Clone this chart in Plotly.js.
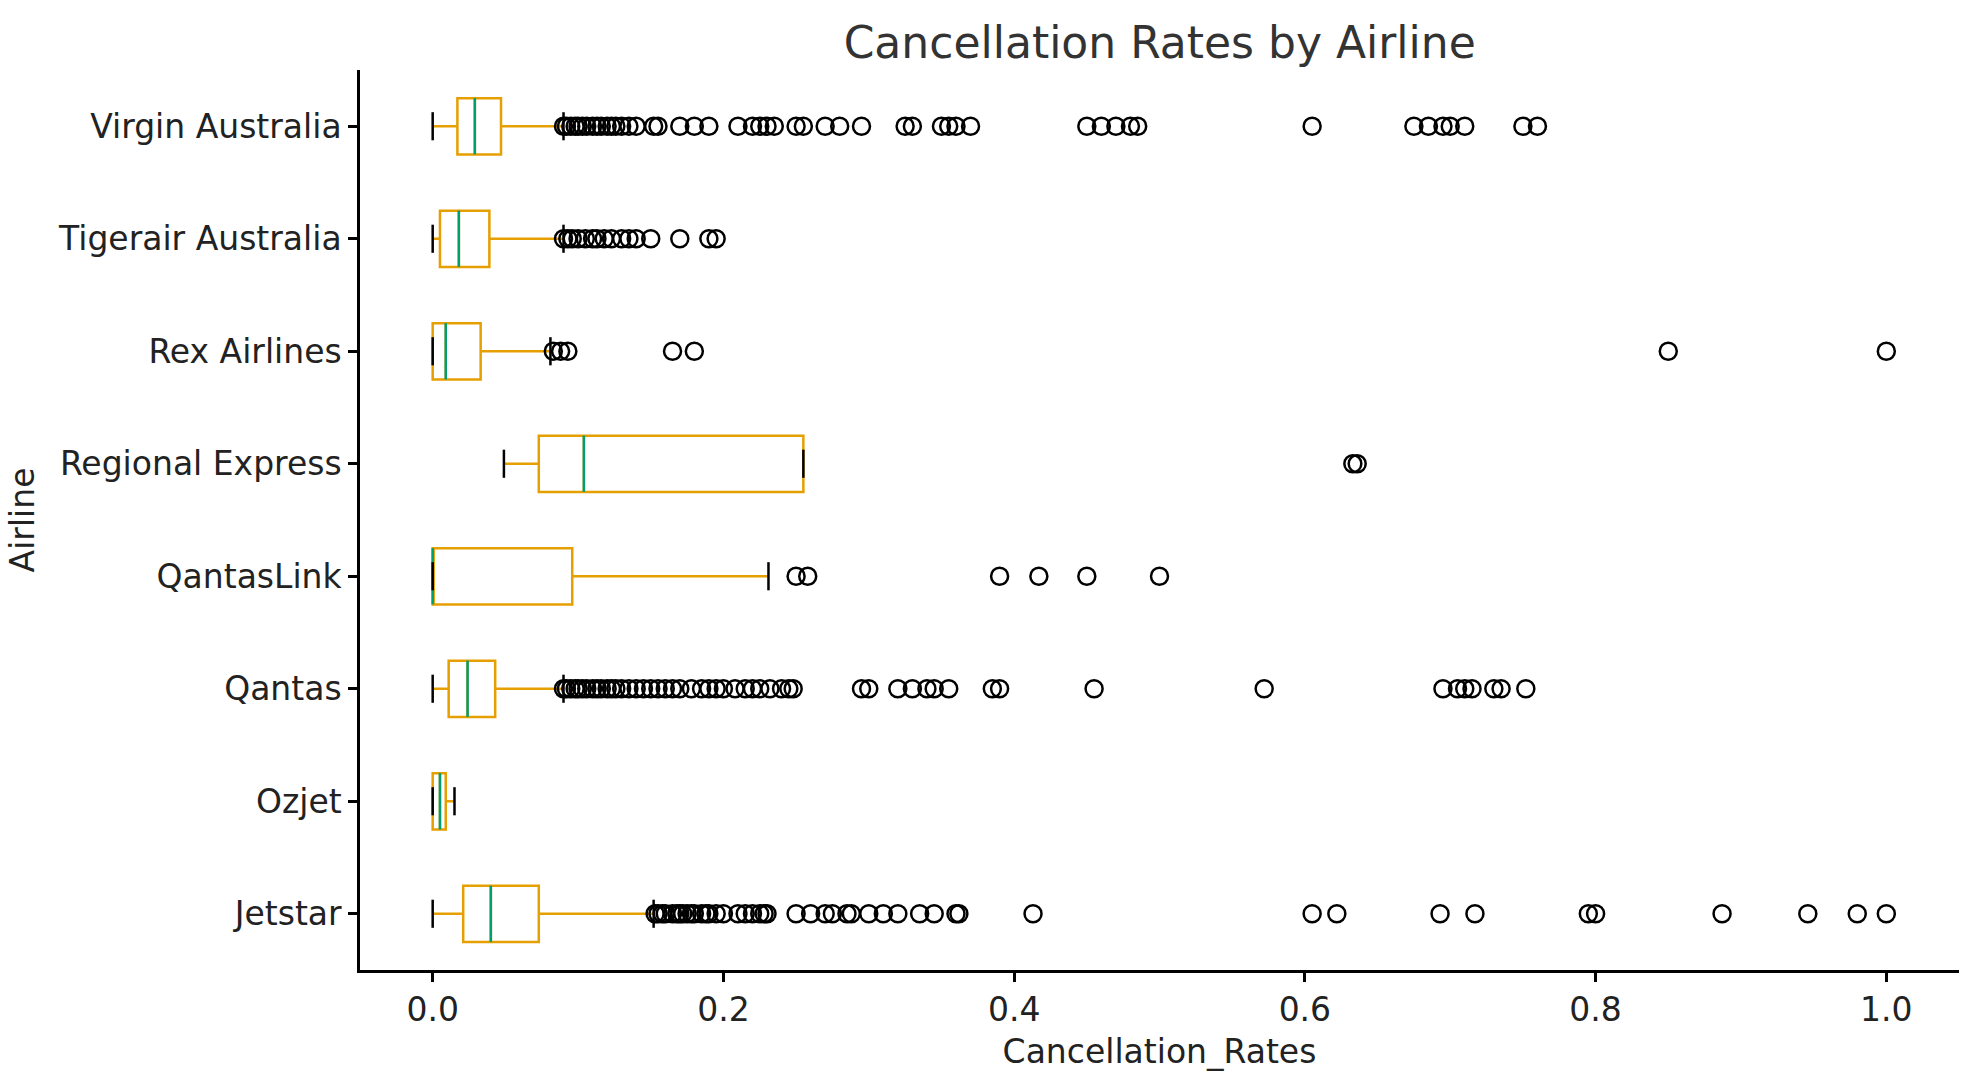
<html><head><script src="https://cdn.plot.ly/plotly-3.0.1.min.js"></script>
<style>body{margin:0}</style></head><body><div id="c" style="width:1979px;height:1078px"></div><script>
const airlines=["Jetstar","Ozjet","Qantas","QantasLink","Regional Express","Rex Airlines","Tigerair Australia","Virgin Australia"];
const lowerFence=[0,0,0,0,0.049,0,0,0];
const q1=[0.021,0,0.011,0,0.073,0,0.005,0.017];
const median=[0.04,0.005,0.024,0,0.104,0.009,0.018,0.029];
const q3=[0.073,0.009,0.043,0.096,0.255,0.033,0.039,0.047];
const upperFence=[0.152,0.015,0.09,0.231,0.255,0.081,0.09,0.09];
const outliers=[
[0.153,0.155,0.158,0.16,0.165,0.168,0.17,0.172,0.175,0.178,0.18,0.185,0.188,0.19,0.195,0.2,0.21,0.215,0.22,0.225,0.228,0.23,0.25,0.26,0.27,0.275,0.285,0.288,0.3,0.31,0.32,0.335,0.345,0.36,0.362,0.413,0.605,0.622,0.693,0.717,0.795,0.8,0.887,0.946,0.98,1.0],
[],
[0.09,0.092,0.095,0.098,0.1,0.103,0.106,0.11,0.113,0.116,0.12,0.123,0.126,0.13,0.135,0.14,0.145,0.15,0.155,0.16,0.165,0.17,0.178,0.185,0.19,0.195,0.2,0.208,0.215,0.22,0.225,0.232,0.24,0.245,0.248,0.295,0.3,0.32,0.33,0.34,0.345,0.355,0.385,0.39,0.455,0.572,0.695,0.705,0.71,0.715,0.73,0.735,0.752],
[0.25,0.258,0.39,0.417,0.45,0.5],
[0.633,0.636],
[0.083,0.088,0.093,0.165,0.18,0.85,1.0],
[0.09,0.093,0.096,0.1,0.105,0.11,0.113,0.118,0.123,0.13,0.135,0.14,0.15,0.17,0.19,0.195],
[0.09,0.092,0.095,0.098,0.1,0.103,0.106,0.11,0.113,0.116,0.12,0.123,0.126,0.13,0.135,0.14,0.152,0.155,0.17,0.18,0.19,0.21,0.22,0.225,0.23,0.235,0.25,0.255,0.27,0.28,0.295,0.325,0.33,0.35,0.355,0.36,0.37,0.45,0.46,0.47,0.48,0.485,0.605,0.675,0.685,0.695,0.7,0.71,0.75,0.76]];
const traces=[];
const mx=[],my=[],cx=[],cy=[],ox=[],oy=[];
airlines.forEach((a,i)=>{
 traces.push({type:'box',orientation:'h',y0:i,q1:[q1[i]],median:[median[i]],q3:[q3[i]],lowerfence:[lowerFence[i]],upperfence:[upperFence[i]],
  width:0.5,whiskerwidth:0,line:{color:'#E69F00',width:2.5},fillcolor:'rgba(0,0,0,0)',boxpoints:false,hoverinfo:'skip',showlegend:false});
 mx.push(median[i],median[i],null); my.push(i-0.25,i+0.25,null);
 [lowerFence[i],upperFence[i]].forEach(v=>{cx.push(v,v,null);cy.push(i-0.125,i+0.125,null);});
 outliers[i].forEach(v=>{ox.push(v);oy.push(i);});
});
traces.push({type:'scatter',mode:'lines',x:mx,y:my,line:{color:'#009E73',width:2.5},showlegend:false,hoverinfo:'skip'});
traces.push({type:'scatter',mode:'lines',x:cx,y:cy,line:{color:'black',width:2.5},showlegend:false,hoverinfo:'skip'});
traces.push({type:'scatter',mode:'markers',x:ox,y:oy,marker:{symbol:'circle-open',size:17,color:'black',line:{width:2.5}},showlegend:false});
const ax={showgrid:false,zeroline:false,showline:true,linecolor:'black',linewidth:2.5,ticks:'outside',ticklen:9,tickwidth:2.5,tickcolor:'black',tickfont:{size:33,color:'#222'}};
Plotly.newPlot('c',traces,{width:1979,height:1078,font:{family:'DejaVu Sans'},
 paper_bgcolor:'white',plot_bgcolor:'white',margin:{l:360,r:20,t:70,b:108},
 title:{text:'Cancellation Rates by Airline',font:{size:44,color:'#333'},x:0.586,xanchor:'center',y:0.975},
 xaxis:Object.assign({},ax,{range:[-0.05,1.05],tickvals:[0,0.2,0.4,0.6,0.8,1.0],ticktext:['0.0','0.2','0.4','0.6','0.8','1.0'],title:{text:'Cancellation_Rates',font:{size:33,color:'#222'},standoff:12}}),
 yaxis:Object.assign({},ax,{range:[-0.5,7.5],ticklabelstandoff:0,tickvals:airlines.map((a,i)=>i),ticktext:airlines,title:{text:'Airline',font:{size:33,color:'#222'},standoff:14}})
},{displayModeBar:false});
</script></body></html>
